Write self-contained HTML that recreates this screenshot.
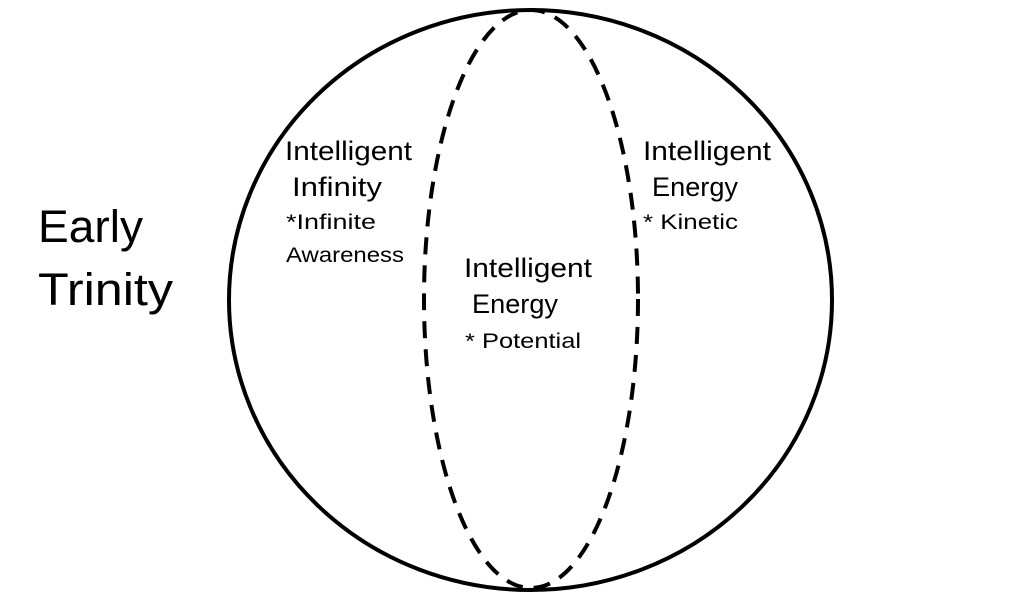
<!DOCTYPE html>
<html><head><style>
html,body{margin:0;padding:0;background:#fff;}
svg{display:block;}
text{font-family:"Liberation Sans",sans-serif;fill:#000;}
</style></head><body>
<svg width="1024" height="599" viewBox="0 0 1024 599">
<ellipse cx="530.5" cy="300" rx="301.5" ry="290" fill="none" stroke="#000" stroke-width="4"/>
<ellipse cx="531" cy="299" rx="107" ry="289" fill="none" stroke="#000" stroke-width="4" stroke-dasharray="17,11"/>
<text x="38" y="242" font-size="45" textLength="105" lengthAdjust="spacingAndGlyphs">Early</text>
<text x="38" y="305" font-size="45" textLength="135" lengthAdjust="spacingAndGlyphs">Trinity</text>
<g font-size="27">
<text x="285" y="160" textLength="127" lengthAdjust="spacingAndGlyphs">Intelligent</text>
<text x="292" y="196" textLength="90" lengthAdjust="spacingAndGlyphs">Infinity</text>
<text x="643" y="160" textLength="128" lengthAdjust="spacingAndGlyphs">Intelligent</text>
<text x="652" y="196" textLength="86" lengthAdjust="spacingAndGlyphs">Energy</text>
<text x="464" y="277" textLength="128" lengthAdjust="spacingAndGlyphs">Intelligent</text>
<text x="472" y="313" textLength="86" lengthAdjust="spacingAndGlyphs">Energy</text>
</g>
<g font-size="21">
<text x="286" y="229" textLength="90" lengthAdjust="spacingAndGlyphs">*Infinite</text>
<text x="286" y="262" textLength="118" lengthAdjust="spacingAndGlyphs">Awareness</text>
<text x="643" y="229" textLength="95" lengthAdjust="spacingAndGlyphs">* Kinetic</text>
<text x="465" y="348" textLength="116" lengthAdjust="spacingAndGlyphs">* Potential</text>
</g>
</svg>
</body></html>
